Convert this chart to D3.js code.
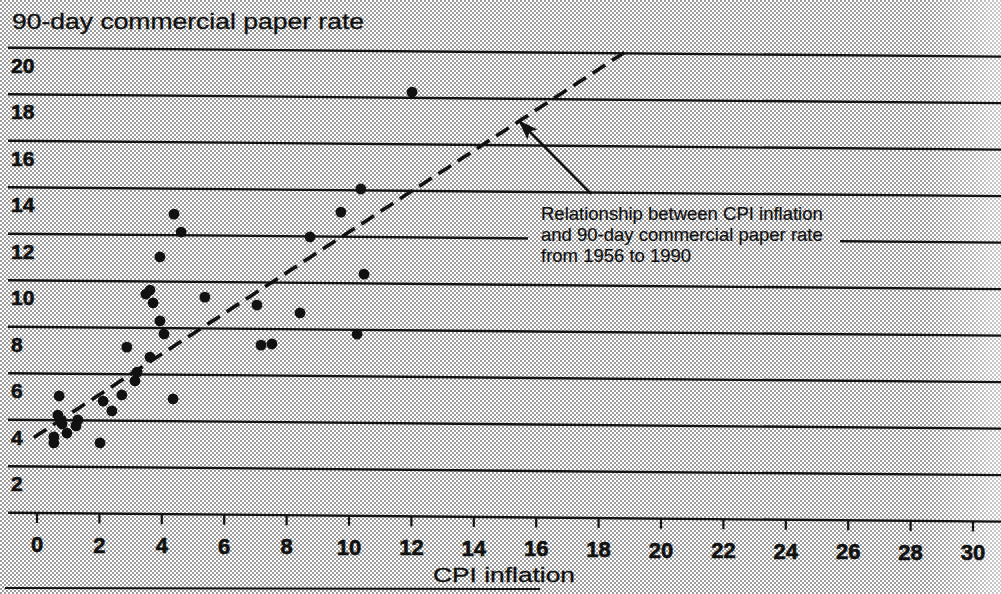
<!DOCTYPE html>
<html><head><meta charset="utf-8">
<script src="https://cdn.jsdelivr.net/npm/d3@7"></script>
<style>html,body{margin:0;padding:0;background:#fff;} svg{display:block;}</style>
</head><body>
<svg id="chart" width="1001" height="594"></svg>
<script>
// ---- data ----
const cpiInflation = [12.02, 10.38, 4.39, 4.62, 9.74, 8.75, 3.94, 10.48, 3.49, 3.62, 3.72, 5.38, 7.05, 8.43, 3.94, 4.07, 10.26, 2.88, 7.18, 7.53, 3.62, 3.21, 3.14, 2.72, 4.36, 2.12, 2.40, 0.71, 0.67, 0.80, 0.96, 1.31, 1.25, 0.54, 0.54, 2.02];
const paperRate    = [18.25, 14.06, 12.91, 12.14, 13.06, 11.98, 11.06, 10.40, 9.46, 9.63, 9.08, 9.35, 9.03, 8.71, 8.31, 7.75, 7.82, 7.17, 7.31, 7.36, 6.75, 6.10, 5.72, 5.11, 4.96, 4.84, 4.42, 5.04, 4.22, 3.84, 3.45, 4.02, 3.76, 3.28, 3.02, 3.04];
const xTicks = [0, 2, 4, 6, 8, 10, 12, 14, 16, 18, 20, 22, 24, 26, 28, 30];
const yTicks = [2, 4, 6, 8, 10, 12, 14, 16, 18, 20];
const trendX = [-0.1, 18.9];
const trendY = [3.25, 20.1];
const titleText = "90-day commercial paper rate";
const xLabel = "CPI inflation";
const noteLines = ["Relationship between CPI inflation", "and 90-day commercial paper rate", "from 1956 to 1990"];
const arrowFrom = [17.76, 13.94];
const arrowTo = [15.45, 17.05];

// ---- drawing ----
const W = 1001, H = 594;
const svg = d3.select("#chart");
const defs = svg.append("defs");
const pat = defs.append("pattern").attr("id", "ht").attr("patternUnits", "userSpaceOnUse")
  .attr("width", 4).attr("height", 4);
pat.append("rect").attr("width", 4).attr("height", 4).attr("fill", "#fff");
[[0, 0], [2, 2]].forEach(p =>
  pat.append("rect").attr("x", p[0]).attr("y", p[1]).attr("width", 2).attr("height", 2)
    .attr("fill", "#9c9c9c").attr("shape-rendering", "crispEdges"));
const grad = defs.append("linearGradient").attr("id", "fade").attr("x1", 0).attr("x2", 1).attr("y1", 0).attr("y2", 0);
grad.append("stop").attr("offset", 0).attr("stop-color", "#fff").attr("stop-opacity", 0);
grad.append("stop").attr("offset", 1).attr("stop-color", "#fff").attr("stop-opacity", 0.45);
const mk = defs.append("marker").attr("id", "ah").attr("markerUnits", "userSpaceOnUse")
  .attr("viewBox", "0 0 20 14").attr("markerWidth", 20).attr("markerHeight", 14)
  .attr("refX", 19).attr("refY", 7).attr("orient", "auto");
mk.append("path").attr("d", "M0,0 L20,7 L0,14 L4,7 Z").attr("fill", "#111");

svg.append("rect").attr("width", W).attr("height", H).attr("fill", "url(#ht)");
svg.append("rect").attr("x", 925).attr("width", 76).attr("height", H).attr("fill", "url(#fade)");

const x = d3.scaleLinear().domain([0, 30]).range([37, 37 + 31.2 * 30]);
const y = d3.scaleLinear().domain([0, 20]).range([513, 513 - 23.25 * 20]);
const tilt = px => 0.009 * (px - 37);   // the scan is slightly tilted
const font = "'Liberation Sans', Arial, Helvetica, sans-serif";
const ink = "#111";

// gridlines
svg.append("g").selectAll("line").data([0].concat(yTicks)).join("line")
  .attr("x1", 8).attr("x2", 1012)
  .attr("y1", d => y(d) + tilt(8)).attr("y2", d => y(d) + tilt(1012))
  .attr("stroke", ink).attr("stroke-width", 2.3);

// x axis ticks & labels
const xAxis = svg.append("g").attr("transform", `translate(0,${y(0)})`)
  .call(d3.axisBottom(x).tickValues(xTicks).tickSize(10).tickFormat(d3.format("d")));
xAxis.select(".domain").remove();
xAxis.selectAll(".tick").attr("transform", d => `translate(${x(d)},${tilt(x(d))})`);
xAxis.selectAll(".tick line").attr("stroke", ink).attr("stroke-width", 2.2);
xAxis.selectAll(".tick text").attr("y", 39).attr("dy", 0)
  .attr("font-family", font).attr("font-weight", "bold").attr("font-size", 22).attr("fill", ink)
  .attr("stroke", ink).attr("stroke-width", 0.6);

// y labels under each gridline
const yAxis = svg.append("g").attr("transform", "translate(11,0)")
  .call(d3.axisRight(y).tickValues(yTicks).tickSize(0).tickFormat(d3.format("d")));
yAxis.select(".domain").remove();
yAxis.selectAll(".tick text").attr("x", 0).attr("y", 24).attr("dy", 0).attr("text-anchor", "start")
  .attr("font-family", font).attr("font-weight", "bold").attr("font-size", 21).attr("fill", ink)
  .attr("stroke", ink).attr("stroke-width", 0.6);

// annotation background (masks gridline)
svg.append("rect").attr("x", 528).attr("y", 200).attr("width", 312).attr("height", 68).attr("fill", "url(#ht)");

// trend line
svg.append("path")
  .datum(trendX.map((d, i) => [d, trendY[i]]))
  .attr("d", d3.line().x(d => x(d[0])).y(d => y(d[1]) + tilt(x(d[0]))))
  .attr("fill", "none").attr("stroke", ink).attr("stroke-width", 3.6)
  .attr("stroke-dasharray", "15,8");
// points
svg.append("g").selectAll("circle").data(cpiInflation.map((d, i) => [d, paperRate[i]])).join("circle")
  .attr("cx", d => x(d[0])).attr("cy", d => y(d[1]) + tilt(x(d[0]))).attr("r", 5.4).attr("fill", ink);
// arrow
svg.append("line")
  .attr("x1", x(arrowFrom[0])).attr("y1", y(arrowFrom[1]) + tilt(x(arrowFrom[0])))
  .attr("x2", x(arrowTo[0])).attr("y2", y(arrowTo[1]) + tilt(x(arrowTo[0])))
  .attr("stroke", ink).attr("stroke-width", 2.5).attr("marker-end", "url(#ah)");

// texts
svg.append("text").attr("x", 12).attr("y", 29).text(titleText)
  .attr("font-family", font).attr("font-size", 22).attr("fill", ink)
  .attr("stroke", ink).attr("stroke-width", 0.3)
  .attr("textLength", 352).attr("lengthAdjust", "spacingAndGlyphs");
svg.append("text").attr("x", 433).attr("y", 582).text(xLabel)
  .attr("font-family", font).attr("font-size", 21).attr("fill", ink)
  .attr("stroke", ink).attr("stroke-width", 0.3)
  .attr("textLength", 142).attr("lengthAdjust", "spacingAndGlyphs");
svg.append("g").selectAll("text").data(noteLines).join("text")
  .attr("x", 541).attr("y", (d, i) => 220 + i * 21).text(d => d)
  .attr("font-family", font).attr("font-size", 18.5).attr("fill", ink)
  .attr("stroke", ink).attr("stroke-width", 0.2);

// bottom rule
svg.append("line").attr("x1", 5).attr("x2", 540).attr("y1", 588).attr("y2", 589)
  .attr("stroke", ink).attr("stroke-width", 2);
</script>
</body></html>
